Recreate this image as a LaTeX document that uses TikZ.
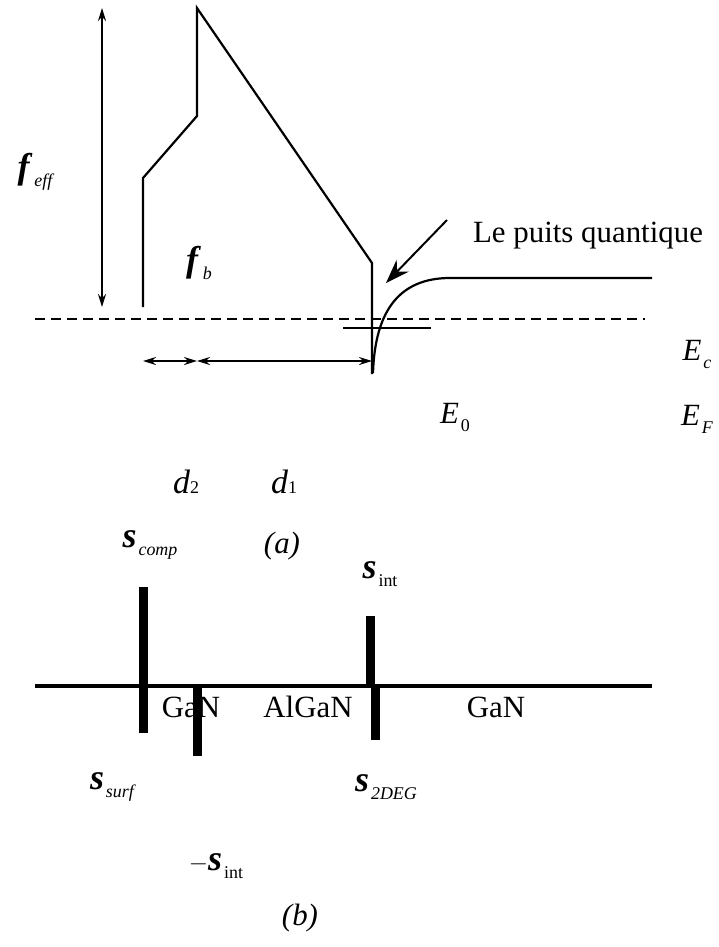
\documentclass[tikz,border=0pt]{standalone}
\usepackage{fontspec}
\setmainfont{Liberation Serif}
\usetikzlibrary{arrows.meta}
\newcommand\bisym[1]{{\fontsize{36}{36}\selectfont\textbf{\textit{#1}}}}
\newcommand\subl[1]{\hspace{2bp}\raisebox{-8bp}{\fontsize{18}{18}\selectfont #1}}
\begin{document}
\begin{tikzpicture}[x=1bp,y=-1bp,line width=2bp,
  lbl/.style={inner sep=0pt,font=\fontsize{31}{36}\selectfont},
  dbl/.style={{Stealth[length=13bp,width=8bp]}-{Stealth[length=13bp,width=8bp]}},
  bar/.style={line width=9bp},
  band/.style={line width=2.2bp,line join=miter}]
\useasboundingbox (0,0) rectangle (719,947);
% ---------- (a) band diagram ----------
\coordinate (effT) at (102,8);
\coordinate (effB) at (102,307);
\draw[dbl] (effT) -- (effB);
\draw[band] (143,307) -- (143,178) -- (197,116) -- (197,8) -- (372,263) -- (372,374);
\draw[band] (373,373) .. controls (375,310) and (400,278) .. (450,278) -- (652,278);
\draw[dash pattern=on 10bp off 6bp] (35,319) -- (645,319);
\draw (343,328) -- (431,328);
\coordinate (d2L) at (143,361);
\coordinate (d2R) at (197,361);
\coordinate (d1R) at (372,361);
\draw[dbl] (d2L) -- (d2R);
\draw[dbl] (d2R) -- (d1R);
\node[lbl] (puits) at (588,236) {Le puits quantique};
\coordinate (ptail) at (447,220);
\coordinate (ptip) at (386,283);
\draw[-{Stealth[length=24bp,width=17bp,inset=8bp]}] (ptail) -- (ptip);
\node[lbl] (feff) at (36,172) {\bisym{f}\subl{\textit{eff}}};
\node[lbl] (fb) at (199,263) {\bisym{f}\subl{\textit{b}}};
\node[lbl] (Ec) at (697,354) {\textit{E}\subl{\textit{c}}};
\node[lbl] (E0) at (455,417) {\textit{E}\subl{0}};
\node[lbl] (EF) at (697,419) {\textit{E}\subl{\textit{F}}};
\node[lbl,font=\fontsize{34}{36}\selectfont] (d2) at (186,482) {\textit{d}{\fontsize{18}{18}\selectfont 2}};
\node[lbl,font=\fontsize{34}{36}\selectfont] (d1) at (284,482) {\textit{d}{\fontsize{18}{18}\selectfont 1}};
\node[lbl] (a) at (282,546) {\textit{(a)}};
% ---------- (b) charges ----------
\coordinate (axL) at (35,686);
\coordinate (axR) at (652,686);
\draw[line width=3.5bp] (axL) -- (axR);
\draw[bar] (143,587) -- (143,733);
\draw[bar] (197,686) -- (197,756);
\draw[bar] (370,616) -- (370,686);
\draw[bar] (375,686) -- (375,740);
\node[lbl] (gan1) at (191,707) {GaN};
\node[lbl] (algan) at (308,707) {AlGaN};
\node[lbl] (gan2) at (496,707) {GaN};
\node[lbl] (scomp) at (150,545) {\bisym{s}\subl{\textit{comp}}};
\node[lbl] (sint) at (380,574) {\bisym{s}\subl{int}};
\node[lbl] (ssurf) at (113,787) {\bisym{s}\subl{\textit{surf}}};
\node[lbl] (s2deg) at (386,787) {\bisym{s}\subl{\textit{2DEG}}};
\node[lbl] (msint) at (216,866) {$-$\bisym{s}\subl{int}};
\node[lbl] (b) at (300,918) {\textit{(b)}};
\end{tikzpicture}
\end{document}
